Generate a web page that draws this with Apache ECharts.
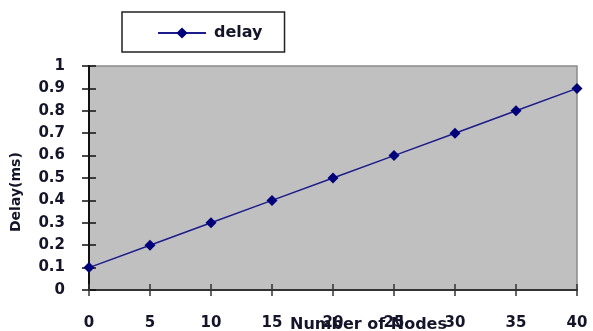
<!DOCTYPE html>
<html>
<head>
<meta charset="utf-8">
<script src="https://cdn.jsdelivr.net/npm/echarts@6/dist/echarts.min.js"></script>
<style>
html,body{margin:0;padding:0;background:#fff;}
#c{width:593px;height:331px;}
</style>
</head>
<body>
<div id="c"></div>
<script>
var nodes = [0, 5, 10, 15, 20, 25, 30, 35, 40];
var delay = [0.1, 0.2, 0.3, 0.4, 0.5, 0.6, 0.7, 0.8, 0.9];
var seriesName = 'delay';
var xTitle = 'Number of Nodes';
var yTitle = 'Delay(ms)';

var pairs = nodes.map(function (n, i) { return [n, delay[i]]; });
var font = '"DejaVu Sans", Verdana, sans-serif';
var labelStyle = { color: '#15152a', fontWeight: 'bold', fontSize: 15, fontFamily: font };

var chart = echarts.init(document.getElementById('c'));
chart.setOption({
  animation: false,
  backgroundColor: '#fff',
  grid: { left: 89, right: 16, top: 66, bottom: 41, show: true, backgroundColor: '#c0c0c0', borderColor: '#8a8a8a', borderWidth: 1.5 },
  legend: {
    left: 122, top: 12,
    padding: [13, 22, 11, 35],
    borderColor: '#222', borderWidth: 1.5,
    itemWidth: 48, itemHeight: 14, itemGap: 6,
    textStyle: { color: '#15152a', fontWeight: 'bold', fontSize: 16, fontFamily: font, padding: [0, 0, 0, 3] },
    data: [seriesName]
  },
  xAxis: [{
    type: 'value', min: 0, max: 40, interval: 5,
    axisLine: { show: true, onZero: false, lineStyle: { color: '#333', width: 2 } },
    axisTick: { show: true, length: 6, lineStyle: { color: '#333', width: 1.5 } },
    axisLabel: Object.assign({ margin: 26 }, labelStyle),
    splitLine: { show: false }
  }, {
    type: 'value', min: 0, max: 40, interval: 5, position: 'bottom',
    axisLine: { show: false },
    axisTick: { show: true, inside: true, length: 6, lineStyle: { color: '#333', width: 1.5 } },
    axisLabel: { show: false },
    splitLine: { show: false }
  }],
  yAxis: [{
    type: 'value', min: 0, max: 1, interval: 0.1,
    axisLine: { show: true, lineStyle: { color: '#111', width: 2 } },
    axisTick: { show: true, length: 7, lineStyle: { color: '#111', width: 1.5 } },
    axisLabel: Object.assign({ margin: 24 }, labelStyle),
    splitLine: { show: false }
  }, {
    type: 'value', min: 0, max: 1, interval: 0.1, position: 'left',
    axisLine: { show: false },
    axisTick: { show: true, inside: true, length: 7, lineStyle: { color: '#111', width: 1.5 } },
    axisLabel: { show: false },
    splitLine: { show: false }
  }],
  graphic: [{
    type: 'text', left: 290, top: 317,
    style: { text: xTitle, fill: '#15152a', font: 'bold 16px ' + font }
  }, {
    type: 'text', x: 9, y: 232, rotation: Math.PI / 2,
    style: { text: yTitle, fill: '#15152a', font: 'bold 14px ' + font }
  }],
  series: [{
    name: seriesName,
    type: 'line',
    data: pairs,
    symbol: 'diamond',
    symbolSize: 11,
    lineStyle: { color: '#1c1c8c', width: 1.5 },
    itemStyle: { color: '#00007a' }
  }]
});
</script>
</body>
</html>
